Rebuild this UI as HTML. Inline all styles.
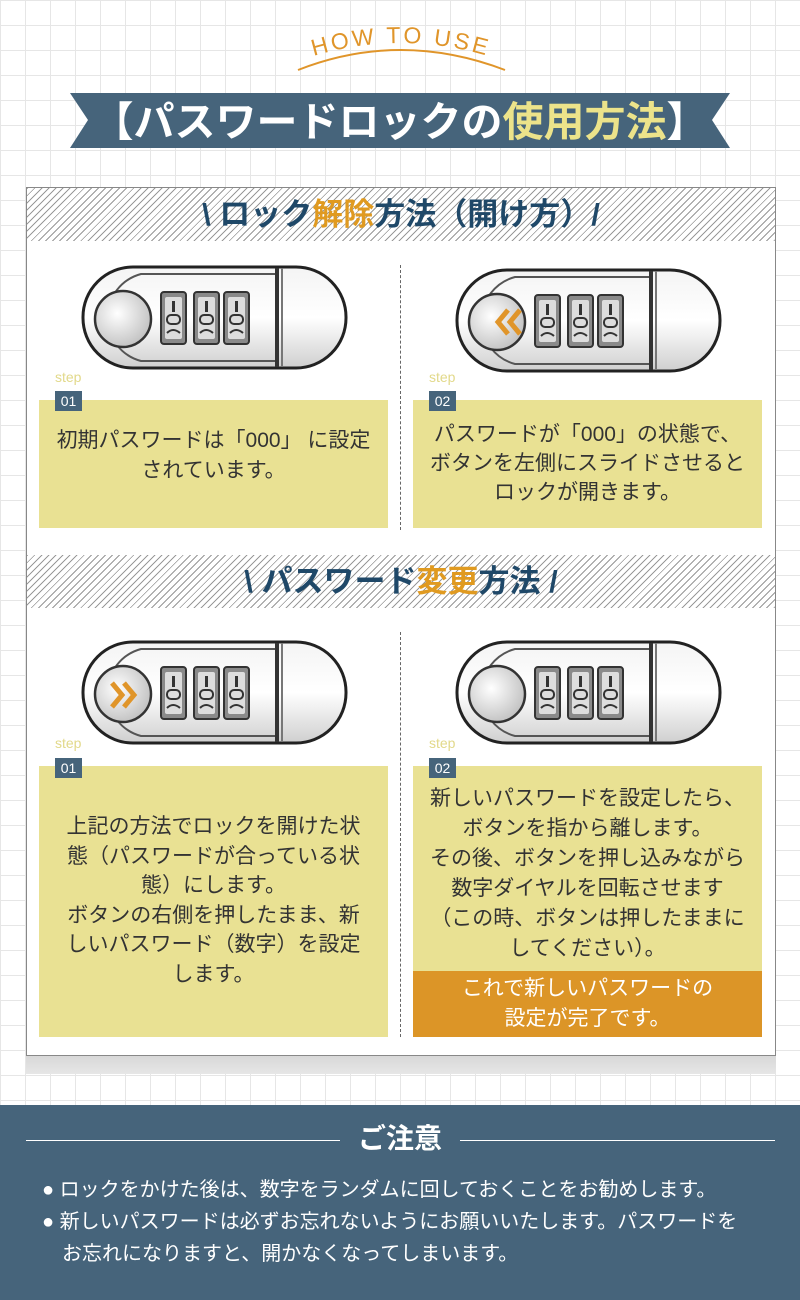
<!DOCTYPE html>
<html><head><meta charset="utf-8">
<style>
*{margin:0;padding:0;box-sizing:border-box}
body{width:800px;height:1300px;position:relative;overflow:hidden;font-family:"Liberation Sans","Noto Sans CJK JP",sans-serif;
background-color:#fff;
background-image:linear-gradient(#e6e6e6 1px,transparent 1px),linear-gradient(90deg,#e6e6e6 1px,transparent 1px);
background-size:25px 25px;background-position:0 0}
.abs{position:absolute}
.card{left:26px;top:187px;width:750px;height:869px;background:#fff;border:1px solid #888}
.shadow{left:26px;top:1056px;width:750px;height:18px;background:linear-gradient(#d8d8d8,#e6e6e6)}
.hatch{left:27px;width:748px;height:53px;background:repeating-linear-gradient(135deg,#999 0 1px,#fff 1px 5px)}
.htitle{left:27px;width:748px;text-align:center;font-weight:bold;font-size:31px;color:#1f4868;line-height:53px;white-space:nowrap}
.htitle .o{color:#e09a20}
.step{font-size:14px;color:#e2d98a}
.num{width:27px;height:20px;background:#46647b;color:#fff;font-size:14px;line-height:20px;text-align:center}
.yb{background:#e9e193;color:#333;font-size:21px;line-height:30px;text-align:center;white-space:nowrap}
.dot{left:400px;width:0;border-left:1px dashed #666}
.foot{left:0;top:1105px;width:800px;height:195px;background:#46647b}
.fl{height:1px;background:#fff;top:1140px}
.ft{color:#fff;font-size:20px;line-height:32px;white-space:nowrap}
</style></head><body>

<svg class="abs" style="left:0;top:0" width="800" height="160">
<defs><path id="arc" d="M290,64 Q400,22 512,64"/></defs>
<text font-family="Liberation Sans,sans-serif" font-size="23" fill="#e0952a" letter-spacing="3"><textPath href="#arc" startOffset="50%" text-anchor="middle">HOW TO USE</textPath></text>
<path d="M298,70 Q400,30 505,70" stroke="#e0952a" stroke-width="2" fill="none"/>
<polygon points="70,93 730,93 712,120 730,148 70,148 88,120" fill="#46647b"/>
<text x="400" y="136" text-anchor="middle" font-family="Liberation Sans,Noto Sans CJK JP,sans-serif" font-weight="bold" font-size="41" fill="#fff">【パスワードロックの<tspan fill="#ece38a">使用方法</tspan>】</text>
</svg>

<div class="abs card"></div>
<div class="abs shadow"></div>

<div class="abs hatch" style="top:188px"></div>
<div class="abs htitle" style="top:188px">\ ロック<span class="o">解除</span>方法（開け方）/</div>
<div class="abs hatch" style="top:555px"></div>
<div class="abs htitle" style="top:555px">\ パスワード<span class="o">変更</span>方法 /</div>

<div class="abs dot" style="top:265px;height:265px"></div>
<div class="abs dot" style="top:632px;height:405px"></div>

<svg class="abs" style="left:0;top:0" width="800" height="1100">
<defs>
<linearGradient id="g" x1="0" y1="0" x2="0" y2="1"><stop offset="0" stop-color="#f4f4f4"/><stop offset=".5" stop-color="#fff"/><stop offset="1" stop-color="#cfcfcf"/></linearGradient>
<radialGradient id="rg" cx=".4" cy=".4" r=".7"><stop offset="0" stop-color="#fff"/><stop offset="1" stop-color="#bbb"/></radialGradient>
<g id="dial"><rect x="0" y="0" width="25" height="52" rx="3" fill="#8a8a8a" stroke="#333" stroke-width="2"/><rect x="4" y="5" width="17" height="42" rx="2" fill="#ddd"/><rect x="11" y="9" width="3" height="11" fill="#333"/><rect x="6" y="23" width="13" height="9" rx="4" fill="none" stroke="#333" stroke-width="2"/><path d="M6,41 q6,-6 13,0" fill="none" stroke="#333" stroke-width="2"/></g>
<g id="lock">
<rect x="2" y="2" width="263" height="101" rx="50" fill="url(#g)" stroke="#222" stroke-width="3"/>
<path d="M195,9 L60,9 A45,45 0 0 0 60,96 L195,96" fill="none" stroke="#555" stroke-width="2"/>
<rect x="194" y="3" width="4" height="99" fill="#333"/><rect x="200" y="3" width="2" height="99" fill="#777"/>
<circle cx="42" cy="54" r="28" fill="url(#rg)" stroke="#333" stroke-width="2.5"/>
<use href="#dial" x="80" y="27"/><use href="#dial" x="113" y="27"/><use href="#dial" x="143" y="27"/>
</g>
</defs>
<use href="#lock" x="81" y="265"/>
<use href="#lock" x="455" y="268"/>
<path d="M508,310 l-10,12 l10,12 M520,310 l-10,12 l10,12" stroke="#e0952a" stroke-width="5" fill="none"/>
<use href="#lock" x="81" y="640"/>
<path d="M112,683 l10,12 l-10,12 M124,683 l10,12 l-10,12" stroke="#e0952a" stroke-width="5" fill="none"/>
<use href="#lock" x="455" y="640"/>
</svg>

<div class="abs step" style="left:55px;top:369px">step</div>
<div class="abs step" style="left:429px;top:369px">step</div>
<div class="abs step" style="left:55px;top:735px">step</div>
<div class="abs step" style="left:429px;top:735px">step</div>

<div class="abs yb" style="left:39px;top:400px;width:349px;height:128px;padding-top:26px">初期パスワードは「000」 に設定<br>されています。</div>
<div class="abs yb" style="left:413px;top:400px;width:349px;height:128px;padding-top:20px;line-height:29px">パスワードが「000」の状態で、<br>ボタンを左側にスライドさせると<br>ロックが開きます。</div>
<div class="abs yb" style="left:39px;top:766px;width:349px;height:271px;padding-top:46px;line-height:29.5px">上記の方法でロックを開けた状<br>態（パスワードが合っている状<br>態）にします。<br>ボタンの右側を押したまま、新<br>しいパスワード（数字）を設定<br>します。</div>
<div class="abs yb" style="left:413px;top:766px;width:349px;height:205px;padding-top:18px">新しいパスワードを設定したら、<br>ボタンを指から離します。<br>その後、ボタンを押し込みながら<br>数字ダイヤルを回転させます<br>（この時、ボタンは押したままに<br>してください）。</div>
<div class="abs yb" style="left:413px;top:971px;width:349px;height:66px;background:#dc9527;color:#fff;padding-top:3px">これで新しいパスワードの<br>設定が完了です。</div>

<div class="abs num" style="left:55px;top:391px">01</div>
<div class="abs num" style="left:429px;top:391px">02</div>
<div class="abs num" style="left:55px;top:758px">01</div>
<div class="abs num" style="left:429px;top:758px">02</div>

<div class="abs foot"></div>
<div class="abs fl" style="left:26px;width:314px"></div>
<div class="abs fl" style="left:460px;width:315px"></div>
<div class="abs" style="left:330px;width:140px;top:1120px;text-align:center;color:#fff;font-weight:bold;font-size:28px;line-height:38px">ご注意</div>
<div class="abs ft" style="left:42px;top:1174px">● ロックをかけた後は、数字をランダムに回しておくことをお勧めします。</div>
<div class="abs ft" style="left:42px;top:1206px">● 新しいパスワードは必ずお忘れないようにお願いいたします。パスワードを</div>
<div class="abs ft" style="left:62px;top:1238px">お忘れになりますと、開かなくなってしまいます。</div>
</body></html>
